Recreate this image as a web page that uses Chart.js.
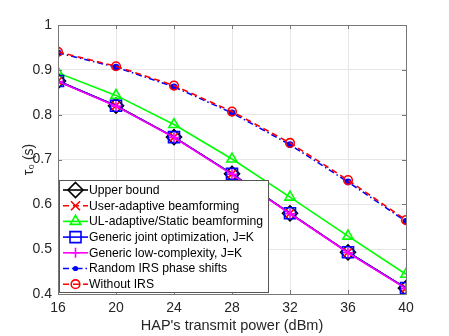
<!DOCTYPE html>
<html><head><meta charset="utf-8">
<script src="https://cdn.jsdelivr.net/npm/chart.js@4.4.1/dist/chart.umd.min.js"></script>
<style>html,body{margin:0;padding:0;background:#fff}#wrap{width:449px;height:336px}</style>
</head><body><div id="wrap"><canvas id="c" width="449" height="336"></canvas></div>
<script>
const powers = [16, 20, 24, 28, 32, 36, 40];
const upperBound   = [0.875, 0.820, 0.750, 0.668, 0.580, 0.493, 0.413];
const userAdaptive = [0.875, 0.820, 0.750, 0.668, 0.580, 0.493, 0.413];
const ulAdaptive   = [0.893, 0.843, 0.778, 0.701, 0.616, 0.529, 0.444];
const genericJoint = [0.875, 0.820, 0.750, 0.668, 0.580, 0.493, 0.413];
const genericLow   = [0.874, 0.819, 0.749, 0.667, 0.579, 0.492, 0.412];
const randomIRS    = [0.938, 0.906, 0.862, 0.804, 0.733, 0.650, 0.562];
const withoutIRS   = [0.940, 0.908, 0.865, 0.807, 0.737, 0.654, 0.565];
const yTicks = [0.4, 0.5, 0.6, 0.7, 0.8, 0.9, 1];
const labels = ['Upper bound','User-adaptive beamforming','UL-adaptive/Static beamforming',
  'Generic joint optimization, J=K','Generic low-complexity, J=K','Random IRS phase shifts','Without IRS'];

const FONT = "'Liberation Sans', Arial, Helvetica, sans-serif";
const styles = [
  {c:'#000000', m:'diamond', r:7.5, dash:[], fill:false},
  {c:'#ff0000', m:'x', r:4.5, dash:[6,4], fill:false},
  {c:'#00ff00', m:'triangle', r:6, dash:[], fill:false},
  {c:'#0000ff', m:'square', r:5.5, dash:[], fill:false},
  {c:'#ff00ff', m:'plus', r:5, dash:[], fill:false},
  {c:'#0000ff', m:'dot', r:2.6, dash:[6,3,1.5,3], fill:true},
  {c:'#ff0000', m:'circle', r:4.3, dash:[6,4], fill:false}
];
const series = [upperBound, userAdaptive, ulAdaptive, genericJoint, genericLow, randomIRS, withoutIRS];

function pointStyleFor(s){
  return {diamond:'rectRot', x:'crossRot', triangle:'triangle', square:'rect', plus:'cross', dot:'circle', circle:'circle'}[s.m];
}
function radiusFor(s){
  if (s.m==='square') return s.r/Math.SQRT1_2;
  if (s.m==='x') return s.r*1.25;
  return s.r;
}

const datasets = series.map((vals, i) => {
  const s = styles[i];
  return {
    label: labels[i],
    data: powers.map((p, k) => ({x: p, y: vals[k]})),
    borderColor: s.c,
    backgroundColor: s.fill ? s.c : 'rgba(0,0,0,0)',
    borderWidth: 1.6,
    borderDash: s.dash,
    pointStyle: pointStyleFor(s),
    pointRadius: radiusFor(s),
    pointBorderWidth: 1.6,
    pointBorderColor: s.c,
    pointBackgroundColor: s.fill ? s.c : 'rgba(0,0,0,0)',
    tension: 0,
    order: 6 - i
  };
});

function drawMarker(ctx, s, x, y){
  const r = s.r;
  ctx.save();
  ctx.strokeStyle = s.c; ctx.fillStyle = s.c; ctx.lineWidth = 1.6; ctx.setLineDash([]);
  ctx.beginPath();
  switch(s.m){
    case 'diamond': ctx.moveTo(x, y-r); ctx.lineTo(x+r, y); ctx.lineTo(x, y+r); ctx.lineTo(x-r, y); ctx.closePath(); ctx.stroke(); break;
    case 'x': ctx.moveTo(x-r,y-r); ctx.lineTo(x+r,y+r); ctx.moveTo(x+r,y-r); ctx.lineTo(x-r,y+r); ctx.stroke(); break;
    case 'triangle': ctx.moveTo(x, y-r); ctx.lineTo(x+r*0.87, y+r*0.5); ctx.lineTo(x-r*0.87, y+r*0.5); ctx.closePath(); ctx.stroke(); break;
    case 'square': ctx.rect(x-r, y-r, 2*r, 2*r); ctx.stroke(); break;
    case 'plus': ctx.moveTo(x-r,y); ctx.lineTo(x+r,y); ctx.moveTo(x,y-r); ctx.lineTo(x,y+r); ctx.stroke(); break;
    case 'dot': ctx.arc(x, y, r, 0, Math.PI*2); ctx.fill(); break;
    case 'circle': ctx.arc(x, y, r, 0, Math.PI*2); ctx.stroke(); break;
  }
  ctx.restore();
}

const boxPlugin = {
  id: 'box',
  afterDatasetsDraw(chart){
    const ctx = chart.ctx; const a = chart.chartArea;
    const xs = chart.scales.x, ys = chart.scales.y;
    ctx.save();
    ctx.strokeStyle = '#777'; ctx.lineWidth = 1; ctx.setLineDash([]);
    ctx.beginPath();
    ctx.moveTo(a.left+0.5, a.top+0.5); ctx.lineTo(a.right+0.5, a.top+0.5); ctx.lineTo(a.right+0.5, a.bottom+0.5);
    ctx.lineTo(a.left+0.5, a.bottom+0.5); ctx.closePath(); ctx.stroke();
    ctx.beginPath();
    powers.forEach(p => { const px = Math.round(xs.getPixelForValue(p))+0.5;
      ctx.moveTo(px, a.top); ctx.lineTo(px, a.top+4); ctx.moveTo(px, a.bottom); ctx.lineTo(px, a.bottom-4); });
    yTicks.forEach(v => { const py = Math.round(ys.getPixelForValue(v))+0.5;
      ctx.moveTo(a.left, py); ctx.lineTo(a.left+4, py); ctx.moveTo(a.right, py); ctx.lineTo(a.right-4, py); });
    ctx.stroke();
    const lx = a.left + 1, ly = 180, lw = 209, lh = 112;
    ctx.fillStyle = '#fff'; ctx.fillRect(lx, ly, lw, lh);
    ctx.strokeStyle = '#555'; ctx.strokeRect(lx+0.5, ly+0.5, lw, lh);
    ctx.font = '12.2px ' + FONT; ctx.textBaseline = 'middle'; ctx.textAlign = 'left';
    labels.forEach((t, i) => {
      const s = styles[i]; const cy = 190 + i*15.7;
      ctx.strokeStyle = s.c; ctx.lineWidth = 1.6; ctx.setLineDash(s.dash);
      ctx.beginPath(); ctx.moveTo(63, cy); ctx.lineTo(88, cy); ctx.stroke();
      ctx.setLineDash([]);
      drawMarker(ctx, s, 75.5, cy);
      ctx.fillStyle = '#000'; ctx.fillText(t, 89, cy+0.5);
    });
    ctx.restore();
  }
};

new Chart(document.getElementById('c'), {
  type: 'line',
  data: { datasets },
  options: {
    responsive: false, animation: false, devicePixelRatio: 1,
    layout: { padding: { left: 0, right: 43, top: 25, bottom: 0 } },
    plugins: { legend: { display: false }, tooltip: { enabled: false } },
    scales: {
      x: {
        type: 'linear', min: 16, max: 40,
        afterBuildTicks(sc){ sc.ticks = powers.map(v => ({value: v})); },
        afterFit(sc){ sc.height = 42; },
        grid: { color: '#e6e6e6', drawTicks: false },
        border: { display: false },
        ticks: { padding: 6, color: '#262626', font: { size: 14, family: FONT } },
        title: { display: true, text: "HAP's transmit power (dBm)", color: '#262626',
          font: { size: 14.5, family: FONT }, padding: { top: 0, bottom: 1 } }
      },
      y: {
        min: 0.4, max: 1,
        afterBuildTicks(sc){ sc.ticks = yTicks.map(v => ({value: v})); },
        afterFit(sc){ sc.width = 58; },
        grid: { color: '#e6e6e6', drawTicks: false },
        border: { display: false },
        ticks: { padding: 6, color: '#262626', font: { size: 14, family: FONT },
          callback: v => String(Math.round(v*10)/10) },
        title: { display: true, text: 'τ₀ (s)', color: '#262626',
          font: { size: 14, family: FONT }, padding: { top: 21, bottom: 0 } }
      }
    }
  },
  plugins: [boxPlugin]
});
</script></body></html>
